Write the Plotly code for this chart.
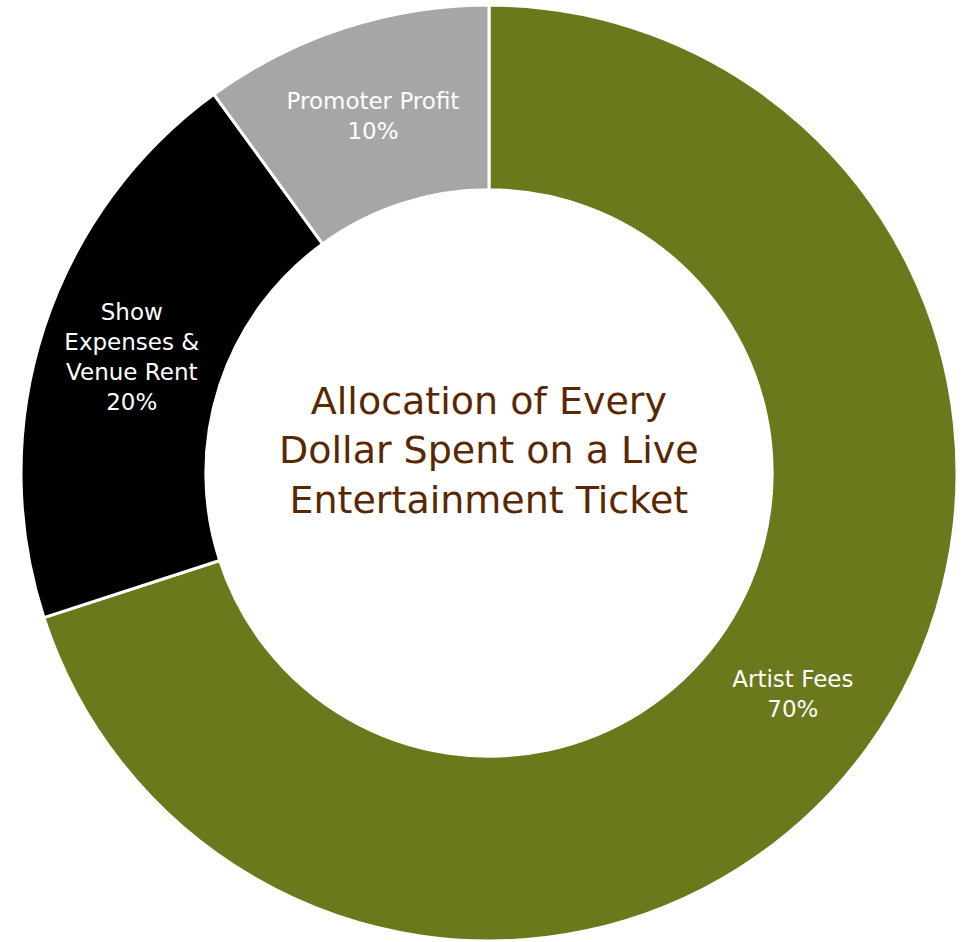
import plotly.graph_objects as go

labels = ["Artist Fees", "Show<br>Expenses &<br>Venue Rent", "Promoter Profit"]
values = [70, 20, 10]
colors = ["#6b781b", "#000000", "#a6a6a6"]
title_text = "Allocation of Every<br>Dollar Spent on a Live<br>Entertainment Ticket"

W, H = 966, 942
cx, cy, r = 489, 473, 468

fig = go.Figure(go.Pie(
    labels=labels,
    values=values,
    hole=0.605,
    sort=False,
    direction="clockwise",
    rotation=0,
    marker=dict(colors=colors, line=dict(color="white", width=3)),
    texttemplate="%{label}<br>%{percent:.0%}",
    textposition="inside",
    insidetextorientation="horizontal",
    textfont=dict(family="DejaVu Sans", size=23, color="white"),
    hoverinfo="label+percent",
    domain=dict(x=[(cx - r) / W, (cx + r) / W], y=[(H - cy - r) / H, (H - cy + r) / H]),
    showlegend=False,
))

fig.add_annotation(
    x=(cx) / W, y=(H - 450) / H, xref="paper", yref="paper",
    text=title_text, showarrow=False,
    font=dict(family="DejaVu Sans", size=38, color="#5a2800"),
    align="center",
)

fig.update_layout(
    width=W, height=H,
    margin=dict(l=0, r=0, t=0, b=0),
    paper_bgcolor="white", plot_bgcolor="white",
)

fig.write_html("out.html")
